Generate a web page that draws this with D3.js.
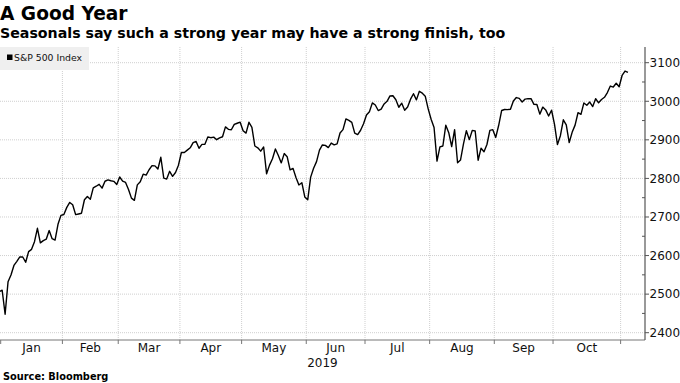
<!DOCTYPE html>
<html>
<head>
<meta charset="utf-8">
<script src="https://cdn.jsdelivr.net/npm/d3@7"></script>
<style>
  html, body { margin: 0; padding: 0; background: #fff; }
  svg { display: block; font-family: "DejaVu Sans", sans-serif; }
</style>
</head>
<body>
<svg id="chart" width="680" height="383"></svg>
<script>
// ---- Data: S&P 500 Index daily closes (trading days) ----
const dec2018 = [2506.85];
const jan2019 = [2510.03, 2447.89, 2531.94, 2549.69, 2574.41, 2584.96, 2596.64, 2596.26, 2582.61, 2610.30, 2616.10, 2635.96, 2670.71, 2632.90, 2638.70, 2642.33, 2664.76, 2643.85, 2640.00, 2681.05, 2704.10];
const feb2019 = [2706.53, 2724.87, 2737.70, 2731.61, 2706.05, 2707.88, 2709.80, 2744.73, 2753.03, 2745.73, 2775.60, 2779.76, 2784.70, 2774.88, 2792.67, 2796.11, 2793.90, 2792.38, 2784.49];
const mar2019 = [2803.69, 2792.81, 2789.65, 2771.45, 2748.93, 2743.07, 2783.30, 2791.52, 2810.92, 2808.48, 2822.48, 2832.94, 2832.57, 2824.23, 2854.88, 2800.71, 2798.36, 2818.46, 2805.37, 2815.44, 2834.40];
const apr2019 = [2867.19, 2867.24, 2873.40, 2879.39, 2892.74, 2895.77, 2878.20, 2888.21, 2888.32, 2907.41, 2905.58, 2907.06, 2900.45, 2905.03, 2907.97, 2933.68, 2927.25, 2926.17, 2939.88, 2943.03, 2945.83];
const may2019 = [2923.73, 2917.52, 2945.64, 2932.47, 2884.05, 2879.42, 2870.72, 2881.40, 2811.87, 2834.41, 2850.96, 2876.32, 2859.53, 2840.23, 2864.36, 2856.27, 2822.24, 2826.06, 2802.39, 2783.02, 2788.86, 2752.06];
const jun2019 = [2744.45, 2803.27, 2826.15, 2843.49, 2873.34, 2886.73, 2885.72, 2879.84, 2891.64, 2886.98, 2889.67, 2917.75, 2926.46, 2954.18, 2950.46, 2945.35, 2917.38, 2913.78, 2924.92, 2941.76];
const jul2019 = [2964.33, 2973.01, 2995.82, 2990.41, 2975.95, 2979.63, 2993.07, 2999.91, 3013.77, 3014.30, 3004.04, 2984.42, 2995.11, 2976.61, 2985.03, 3005.47, 3019.56, 3003.67, 3025.86, 3020.97, 3013.18, 2980.38];
const aug2019 = [2953.56, 2932.05, 2844.74, 2881.77, 2883.98, 2938.09, 2918.65, 2882.70, 2926.32, 2840.60, 2847.60, 2888.68, 2923.65, 2900.51, 2924.43, 2922.95, 2847.11, 2878.38, 2869.16, 2887.94, 2924.58, 2926.46];
const sep2019 = [2906.27, 2937.78, 2976.00, 2978.71, 2978.43, 2979.39, 3000.93, 3009.57, 3007.39, 2997.96, 3005.70, 3006.73, 3006.79, 2992.07, 2991.78, 2966.60, 2984.87, 2977.62, 2961.79, 2976.74];
const oct2019 = [2940.25, 2887.61, 2910.63, 2952.01, 2938.79, 2893.06, 2919.40, 2938.13, 2970.27, 2966.15, 2995.68, 2989.69, 2997.95, 2986.20, 3006.72, 2995.99, 3004.52, 3010.29, 3022.55, 3039.42, 3036.89, 3046.77, 3037.56];
const nov2019 = [3066.91, 3078.27, 3074.62];

const monthLabels = ["Jan", "Feb", "Mar", "Apr", "May", "Jun", "Jul", "Aug", "Sep", "Oct", "Nov"];
const monthSeries = [jan2019, feb2019, mar2019, apr2019, may2019, jun2019, jul2019, aug2019, sep2019, oct2019, nov2019];
const yTicks = [2400, 2500, 2600, 2700, 2800, 2900, 3000, 3100];
const yMinorTicks = [2450, 2550, 2650, 2750, 2850, 2950, 3050];
const yearLabel = "2019";
const seriesName = "S&P 500 Index";

// ---- Build trading-day indexed series ----
const points = [];
dec2018.forEach((v, i) => points.push({ i: i - dec2018.length, v }));
const monthStarts = [];
let idx = 0;
monthSeries.forEach(arr => {
  monthStarts.push(idx);
  arr.forEach(v => { points.push({ i: idx, v }); idx++; });
});

// ---- Layout ----
const L = 0, R = 645, T = 47, B = 340;
const svg = d3.select("#chart");

const x = d3.scaleLinear().domain([-0.739, 218.8]).range([L, R]);
const y = d3.scaleLinear().domain([2400, 3100]).range([332.7, 62.7]);

// Gridlines
const grid = svg.append("g");
grid.selectAll("line.h").data(yTicks).join("line")
  .attr("x1", L).attr("x2", R)
  .attr("y1", d => y(d)).attr("y2", d => y(d))
  .attr("stroke", "#cfcfcf").attr("stroke-width", 1).attr("stroke-dasharray", "1,1");
const tickIdx = monthStarts.map(s => s - 0.5);
grid.selectAll("line.v").data(tickIdx.slice(1)).join("line")
  .attr("x1", d => x(d)).attr("x2", d => x(d))
  .attr("y1", T).attr("y2", B)
  .attr("stroke", "#cfcfcf").attr("stroke-width", 1).attr("stroke-dasharray", "1,1");

// Legend
const lg = svg.append("g");
lg.append("rect").attr("x", 0).attr("y", T).attr("width", 89).attr("height", 23).attr("fill", "#efefef");
lg.append("rect").attr("x", 7).attr("y", 54.5).attr("width", 5.5).attr("height", 5.5).attr("fill", "#000");
lg.append("text").attr("x", 14).attr("y", 61).attr("font-size", 9.3).attr("fill", "#111").text(seriesName);

// Line
svg.append("clipPath").attr("id", "clip").append("rect")
  .attr("x", L).attr("y", T).attr("width", R - L).attr("height", B - T);
const line = d3.line().x(d => x(d.i)).y(d => y(d.v));
svg.append("path").datum(points)
  .attr("clip-path", "url(#clip)")
  .attr("d", line).attr("fill", "none")
  .attr("stroke", "#000").attr("stroke-width", 1.4).attr("stroke-linejoin", "round");

// Bottom axis
const xa = svg.append("g");
xa.append("line").attr("x1", L).attr("x2", R).attr("y1", B).attr("y2", B).attr("stroke", "#777").attr("stroke-width", 1);
xa.selectAll("line.t").data(tickIdx).join("line")
  .attr("x1", d => x(d)).attr("x2", d => x(d))
  .attr("y1", B).attr("y2", B + 4).attr("stroke", "#777");
const labelMonths = monthLabels.slice(0, monthLabels.length - 1);
xa.selectAll("text.m").data(labelMonths).join("text")
  .attr("x", (d, k) => (x(tickIdx[k]) + x(tickIdx[k + 1])) / 2)
  .attr("y", 352).attr("text-anchor", "middle").attr("font-size", 12).attr("fill", "#111")
  .text(d => d);
xa.append("text").attr("x", (L + R) / 2).attr("y", 366.5).attr("text-anchor", "middle")
  .attr("font-size", 12).attr("fill", "#111").text(yearLabel);

// Right axis
const ya = svg.append("g");
ya.append("line").attr("x1", R).attr("x2", R).attr("y1", T).attr("y2", B).attr("stroke", "#555").attr("stroke-width", 1.2);
ya.selectAll("line.t").data(yTicks).join("line")
  .attr("x1", R).attr("x2", R + 4).attr("y1", d => y(d)).attr("y2", d => y(d)).attr("stroke", "#555");
ya.selectAll("line.mt").data(yMinorTicks).join("line")
  .attr("x1", R - 3).attr("x2", R).attr("y1", d => y(d)).attr("y2", d => y(d)).attr("stroke", "#555");
ya.selectAll("text").data(yTicks).join("text")
  .attr("x", 649.5).attr("y", d => y(d)).attr("dy", "0.36em")
  .attr("font-size", 12).attr("fill", "#111").text(d => d);

// Titles
svg.append("text").attr("x", 0).attr("y", 20).attr("font-size", 18.6).attr("font-weight", "bold").attr("fill", "#000").text("A Good Year");
svg.append("text").attr("x", 0).attr("y", 38).attr("font-size", 14.2).attr("font-weight", "bold").attr("fill", "#000").text("Seasonals say such a strong year may have a strong finish, too");
svg.append("text").attr("x", 3).attr("y", 380).attr("font-size", 9.8).attr("font-weight", "bold").attr("fill", "#000").text("Source: Bloomberg");
</script>
</body>
</html>
